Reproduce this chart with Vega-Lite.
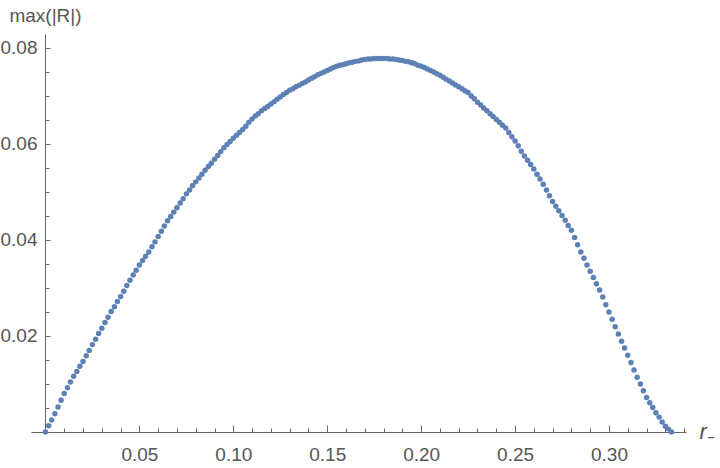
{
  "$schema": "https://vega.github.io/schema/vega-lite/v6.json",
  "width": 655,
  "height": 398,
  "autosize": {"type": "none"},
  "padding": {"left": 31, "top": 34, "right": 34, "bottom": 36},
  "background": "white",
  "config": {"view": {"stroke": null}},
  "data": {"values": [
{"r":0.0000,"v":0.0000},{"r":0.0017,"v":0.0013},{"r":0.0033,"v":0.0025},
{"r":0.0050,"v":0.0038},{"r":0.0067,"v":0.0052},{"r":0.0083,"v":0.0066},
{"r":0.0100,"v":0.0080},{"r":0.0117,"v":0.0092},{"r":0.0133,"v":0.0104},
{"r":0.0150,"v":0.0116},{"r":0.0167,"v":0.0126},{"r":0.0183,"v":0.0137},
{"r":0.0200,"v":0.0147},{"r":0.0217,"v":0.0159},{"r":0.0233,"v":0.0170},
{"r":0.0250,"v":0.0182},{"r":0.0267,"v":0.0193},{"r":0.0283,"v":0.0205},
{"r":0.0300,"v":0.0216},{"r":0.0317,"v":0.0228},{"r":0.0333,"v":0.0239},
{"r":0.0350,"v":0.0251},{"r":0.0367,"v":0.0261},{"r":0.0383,"v":0.0272},
{"r":0.0400,"v":0.0282},{"r":0.0417,"v":0.0293},{"r":0.0433,"v":0.0305},
{"r":0.0450,"v":0.0316},{"r":0.0467,"v":0.0327},{"r":0.0483,"v":0.0337},
{"r":0.0500,"v":0.0348},{"r":0.0517,"v":0.0357},{"r":0.0533,"v":0.0366},
{"r":0.0550,"v":0.0375},{"r":0.0567,"v":0.0386},{"r":0.0583,"v":0.0396},
{"r":0.0600,"v":0.0407},{"r":0.0617,"v":0.0418},{"r":0.0633,"v":0.0429},
{"r":0.0650,"v":0.0440},{"r":0.0667,"v":0.0449},{"r":0.0683,"v":0.0458},
{"r":0.0700,"v":0.0467},{"r":0.0717,"v":0.0477},{"r":0.0733,"v":0.0486},
{"r":0.0750,"v":0.0496},{"r":0.0767,"v":0.0504},{"r":0.0783,"v":0.0513},
{"r":0.0800,"v":0.0521},{"r":0.0817,"v":0.0529},{"r":0.0833,"v":0.0537},
{"r":0.0850,"v":0.0545},{"r":0.0867,"v":0.0553},{"r":0.0883,"v":0.0560},
{"r":0.0900,"v":0.0568},{"r":0.0917,"v":0.0576},{"r":0.0933,"v":0.0584},
{"r":0.0950,"v":0.0592},{"r":0.0967,"v":0.0599},{"r":0.0983,"v":0.0605},
{"r":0.1000,"v":0.0612},{"r":0.1017,"v":0.0618},{"r":0.1033,"v":0.0624},
{"r":0.1050,"v":0.0630},{"r":0.1067,"v":0.0637},{"r":0.1083,"v":0.0645},
{"r":0.1100,"v":0.0652},{"r":0.1117,"v":0.0658},{"r":0.1133,"v":0.0663},
{"r":0.1150,"v":0.0669},{"r":0.1167,"v":0.0674},{"r":0.1183,"v":0.0678},
{"r":0.1200,"v":0.0683},{"r":0.1217,"v":0.0688},{"r":0.1233,"v":0.0693},
{"r":0.1250,"v":0.0698},{"r":0.1267,"v":0.0703},{"r":0.1283,"v":0.0707},
{"r":0.1300,"v":0.0712},{"r":0.1317,"v":0.0715},{"r":0.1333,"v":0.0719},
{"r":0.1350,"v":0.0722},{"r":0.1367,"v":0.0726},{"r":0.1383,"v":0.0729},
{"r":0.1400,"v":0.0733},{"r":0.1417,"v":0.0737},{"r":0.1433,"v":0.0740},
{"r":0.1450,"v":0.0744},{"r":0.1467,"v":0.0747},{"r":0.1483,"v":0.0750},
{"r":0.1500,"v":0.0753},{"r":0.1517,"v":0.0756},{"r":0.1533,"v":0.0759},
{"r":0.1550,"v":0.0762},{"r":0.1567,"v":0.0764},{"r":0.1583,"v":0.0765},
{"r":0.1600,"v":0.0767},{"r":0.1617,"v":0.0769},{"r":0.1633,"v":0.0770},
{"r":0.1650,"v":0.0772},{"r":0.1667,"v":0.0773},{"r":0.1683,"v":0.0775},
{"r":0.1700,"v":0.0776},{"r":0.1717,"v":0.0777},{"r":0.1733,"v":0.0777},
{"r":0.1750,"v":0.0778},{"r":0.1767,"v":0.0778},{"r":0.1783,"v":0.0778},
{"r":0.1800,"v":0.0778},{"r":0.1817,"v":0.0778},{"r":0.1833,"v":0.0777},
{"r":0.1850,"v":0.0777},{"r":0.1867,"v":0.0776},{"r":0.1883,"v":0.0775},
{"r":0.1900,"v":0.0774},{"r":0.1917,"v":0.0772},{"r":0.1933,"v":0.0771},
{"r":0.1950,"v":0.0769},{"r":0.1967,"v":0.0767},{"r":0.1983,"v":0.0764},
{"r":0.2000,"v":0.0762},{"r":0.2017,"v":0.0759},{"r":0.2033,"v":0.0756},
{"r":0.2050,"v":0.0753},{"r":0.2067,"v":0.0750},{"r":0.2083,"v":0.0746},
{"r":0.2100,"v":0.0743},{"r":0.2117,"v":0.0739},{"r":0.2133,"v":0.0735},
{"r":0.2150,"v":0.0731},{"r":0.2167,"v":0.0727},{"r":0.2183,"v":0.0723},
{"r":0.2200,"v":0.0719},{"r":0.2217,"v":0.0715},{"r":0.2233,"v":0.0711},
{"r":0.2250,"v":0.0707},{"r":0.2267,"v":0.0700},{"r":0.2283,"v":0.0694},
{"r":0.2300,"v":0.0687},{"r":0.2317,"v":0.0681},{"r":0.2333,"v":0.0675},
{"r":0.2350,"v":0.0669},{"r":0.2367,"v":0.0663},{"r":0.2383,"v":0.0657},
{"r":0.2400,"v":0.0651},{"r":0.2417,"v":0.0645},{"r":0.2433,"v":0.0639},
{"r":0.2450,"v":0.0633},{"r":0.2467,"v":0.0624},{"r":0.2483,"v":0.0615},
{"r":0.2500,"v":0.0606},{"r":0.2517,"v":0.0596},{"r":0.2533,"v":0.0585},
{"r":0.2550,"v":0.0575},{"r":0.2567,"v":0.0566},{"r":0.2583,"v":0.0557},
{"r":0.2600,"v":0.0548},{"r":0.2617,"v":0.0537},{"r":0.2633,"v":0.0527},
{"r":0.2650,"v":0.0516},{"r":0.2667,"v":0.0504},{"r":0.2683,"v":0.0492},
{"r":0.2700,"v":0.0480},{"r":0.2717,"v":0.0470},{"r":0.2733,"v":0.0461},
{"r":0.2750,"v":0.0451},{"r":0.2767,"v":0.0441},{"r":0.2783,"v":0.0430},
{"r":0.2800,"v":0.0420},{"r":0.2817,"v":0.0405},{"r":0.2833,"v":0.0390},
{"r":0.2850,"v":0.0375},{"r":0.2867,"v":0.0362},{"r":0.2883,"v":0.0348},
{"r":0.2900,"v":0.0335},{"r":0.2917,"v":0.0322},{"r":0.2933,"v":0.0309},
{"r":0.2950,"v":0.0296},{"r":0.2967,"v":0.0281},{"r":0.2983,"v":0.0265},
{"r":0.3000,"v":0.0250},{"r":0.3017,"v":0.0235},{"r":0.3033,"v":0.0219},
{"r":0.3050,"v":0.0204},{"r":0.3067,"v":0.0189},{"r":0.3083,"v":0.0175},
{"r":0.3100,"v":0.0160},{"r":0.3117,"v":0.0145},{"r":0.3133,"v":0.0129},
{"r":0.3150,"v":0.0114},{"r":0.3167,"v":0.0100},{"r":0.3183,"v":0.0086},
{"r":0.3200,"v":0.0072},{"r":0.3217,"v":0.0061},{"r":0.3233,"v":0.0051},
{"r":0.3250,"v":0.0040},{"r":0.3267,"v":0.0031},{"r":0.3283,"v":0.0021},
{"r":0.3300,"v":0.0012},{"r":0.3317,"v":0.0006},{"r":0.3333,"v":0.0000}
  ]},
  "mark": {"type": "point", "filled": true, "size": 30, "opacity": 1, "color": "#5E81B5", "clip": false},
  "encoding": {
    "x": {
      "field": "r", "type": "quantitative",
      "scale": {"domain": [-0.0077, 0.341], "nice": false, "zero": false},
      "axis": {
        "values": [0.01,0.02,0.03,0.04,0.05,0.06,0.07,0.08,0.09,0.10,0.11,0.12,0.13,0.14,0.15,0.16,0.17,0.18,0.19,0.20,0.21,0.22,0.23,0.24,0.25,0.26,0.27,0.28,0.29,0.30,0.31,0.32,0.33,0.34],
        "labelExpr": "(round(datum.value*100) % 5 == 0) ? format(datum.value, '.2f') : ''",
        "tickSize": {"condition": {"test": "round(datum.value*100) % 5 == 0", "value": -7}, "value": -4},
        "labelPadding": 20,
        "labelFont": "Liberation Sans", "labelFontSize": 19, "labelColor": "#555555",
        "labelFlush": false, "labelOverlap": false,
        "domainColor": "#666666", "tickColor": "#666666", "domainWidth": 1, "tickWidth": 1,
        "grid": false,
        "title": "r₋",
        "titleFont": "Liberation Sans", "titleFontSize": 22, "titleFontStyle": "italic", "titleFontWeight": "normal",
        "titleColor": "#555555", "titleAlign": "left", "titleBaseline": "alphabetic",
        "titleX": 668, "titleY": 6
      }
    },
    "y": {
      "field": "v", "type": "quantitative",
      "scale": {"domain": [0, 0.0829], "nice": false, "zero": false},
      "axis": {
        "offset": -14,
        "values": [0.005,0.01,0.015,0.02,0.025,0.03,0.035,0.04,0.045,0.05,0.055,0.06,0.065,0.07,0.075,0.08],
        "labelExpr": "(round(datum.value*1000) % 20 == 0) ? format(datum.value, '.2f') : ''",
        "tickSize": {"condition": {"test": "round(datum.value*1000) % 20 == 0", "value": -5}, "value": -4},
        "labelPadding": 13,
        "labelFont": "Liberation Sans", "labelFontSize": 19, "labelColor": "#555555",
        "labelFlush": false, "labelOverlap": false,
        "domainColor": "#666666", "tickColor": "#666666", "domainWidth": 1, "tickWidth": 1,
        "grid": false,
        "title": "max(|R|)",
        "titleFont": "Liberation Sans", "titleFontSize": 19, "titleFontWeight": "normal",
        "titleColor": "#555555", "titleAngle": 0, "titleAlign": "center", "titleBaseline": "alphabetic",
        "titleX": 0, "titleY": -13
      }
    }
  }
}
